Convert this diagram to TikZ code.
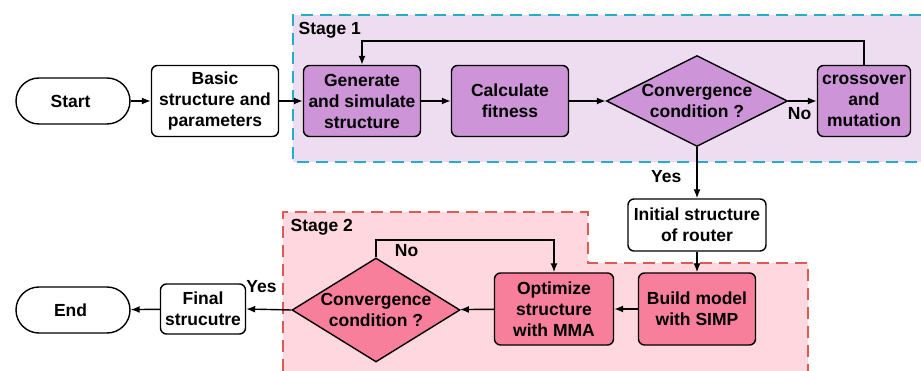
\documentclass[tikz,border=0pt]{standalone}
\usepackage{fontspec}
\setmainfont{Liberation Sans}
\usetikzlibrary{arrows.meta,shapes.geometric}
\usepackage{xcolor}
\definecolor{stageonefill}{HTML}{EEDDF0}
\definecolor{stageoneline}{HTML}{22B0C8}
\definecolor{stagetwofill}{HTML}{FFD7DE}
\definecolor{stagetwoline}{HTML}{DE5A52}
\definecolor{purplebox}{HTML}{CD94D8}
\definecolor{pinkbox}{HTML}{F87F9C}

\begin{document}
\begin{tikzpicture}[x=1pt, y=-1pt, every node/.style={
    rectangle,
    rounded corners=6pt,
    inner sep=2pt,
    draw,
    line width=1.4pt,
    align=center,
    font=\fontsize{17.5}{21}\selectfont\bfseries
}]
    \useasboundingbox (0,0) rectangle (921,371);

    % stage backgrounds
    \fill[stageonefill] (293,15) rectangle (921,162);
    \draw[stageoneline, line width=1.6pt, dash pattern=on 12pt off 7pt] (921,15) -- (293,15) -- (293,162) -- (921,162);
    \fill[stagetwofill] (283,371) -- (283,212) -- (588,212) -- (588,263) -- (808,263) -- (808,371) -- cycle;
    \draw[stagetwoline, line width=1.6pt, dash pattern=on 12pt off 7pt] (283,371) -- (283,212) -- (588,212) -- (588,263) -- (808,263) -- (808,371);

    \node (stage_one) [draw=none, anchor=north west, inner sep=0pt] at (298,22)
    {
        Stage 1
    };
    \node (stage_two) [draw=none, anchor=north west, inner sep=0pt] at (290,219)
    {
        Stage 2
    };

    % first row
    \node (start) [rounded corners=23pt, minimum width=114pt, minimum height=46pt, shift={(73,101)}]
    {
        Start
    };
    \node (basic_structure) [minimum width=127pt, minimum height=71pt, shift={(215,101)}]
    {
        Basic\\structure and\\parameters
    };
    \node (generate) [fill=purplebox, minimum width=117pt, minimum height=71pt, shift={(362,101)}]
    {
        Generate\\and simulate\\structure
    };
    \node (fitness) [fill=purplebox, minimum width=117pt, minimum height=71pt, shift={(510,101)}]
    {
        Calculate\\fitness
    };
    \node (converge_one) [shape=diamond, rounded corners=0pt, aspect=2, inner sep=-2pt, fill=purplebox, minimum width=181pt, minimum height=91pt, shift={(697,101)}]
    {
        Convergence\\condition ?
    };
    \node (crossover) [fill=purplebox, inner sep=0pt, minimum width=93pt, minimum height=71pt, shift={(864,101)}]
    {
        crossover\\and\\mutation
    };

    % middle
    \node (initial_structure) [minimum width=138pt, minimum height=52pt, shift={(697,225)}]
    {
        Initial structure\\of router
    };

    % second row
    \node (build_model) [fill=pinkbox, minimum width=117pt, minimum height=72pt, shift={(697,309)}]
    {
        Build model\\with SIMP
    };
    \node (optimize) [fill=pinkbox, minimum width=119pt, minimum height=72pt, shift={(554,309)}]
    {
        Optimize\\structure\\with MMA
    };
    \node (converge_two) [shape=diamond, rounded corners=0pt, aspect=1.6, inner sep=-1.5pt, fill=pinkbox, minimum width=168pt, minimum height=104pt, shift={(376,310)}]
    {
        Convergence\\condition ?
    };
    \node (final_structure) [inner sep=1pt, minimum width=85pt, minimum height=50pt, shift={(203,309)}]
    {
        Final\\strucutre
    };
    \node (end) [rounded corners=23pt, minimum width=114pt, minimum height=46pt, shift={(73,310)}]
    {
        End
    };

    \coordinate (loop_one) at (362,41);
    \coordinate (loop_two) at (554,240);

    \draw[-{Latex[length=9pt,width=7pt]}, line width=1.4pt] (start) to (basic_structure);
    \draw[-{Latex[length=9pt,width=7pt]}, line width=1.4pt] (basic_structure) to (generate);
    \draw[-{Latex[length=9pt,width=7pt]}, line width=1.4pt] (generate) to (fitness);
    \draw[-{Latex[length=9pt,width=7pt]}, line width=1.4pt] (fitness) to (converge_one);
    \draw[-{Latex[length=9pt,width=7pt]}, line width=1.4pt] (converge_one) to node[draw=none, below, pos=0.4, inner sep=6pt] (no_one) {No} (crossover);
    \draw[-{Latex[length=9pt,width=7pt]}, line width=1.4pt] (crossover.north) |- (loop_one) -- (generate.north);
    \draw[-{Latex[length=9pt,width=7pt]}, line width=1.4pt] (converge_one.south) to node[draw=none, left, pos=0.58, inner sep=15pt] (yes_one) {Yes} (initial_structure.north);
    \draw[-{Latex[length=9pt,width=7pt]}, line width=1.4pt] (initial_structure) to (build_model);
    \draw[-{Latex[length=9pt,width=7pt]}, line width=1.4pt] (build_model) to (optimize);
    \draw[-{Latex[length=9pt,width=7pt]}, line width=1.4pt] (optimize) to (converge_two);
    \draw[-{Latex[length=9pt,width=7pt]}, line width=1.4pt] (converge_two.north) |- node[draw=none, pos=0.54, below right, inner sep=4pt] (no_two) {No} (loop_two) -- (optimize.north);
    \draw[-{Latex[length=9pt,width=7pt]}, line width=1.4pt] (converge_two.west) to node[draw=none, above, pos=0.66, inner sep=16pt] (yes_two) {Yes} (final_structure.east);
    \draw[-{Latex[length=9pt,width=7pt]}, line width=1.4pt] (final_structure) to (end);
\end{tikzpicture}
\end{document}
